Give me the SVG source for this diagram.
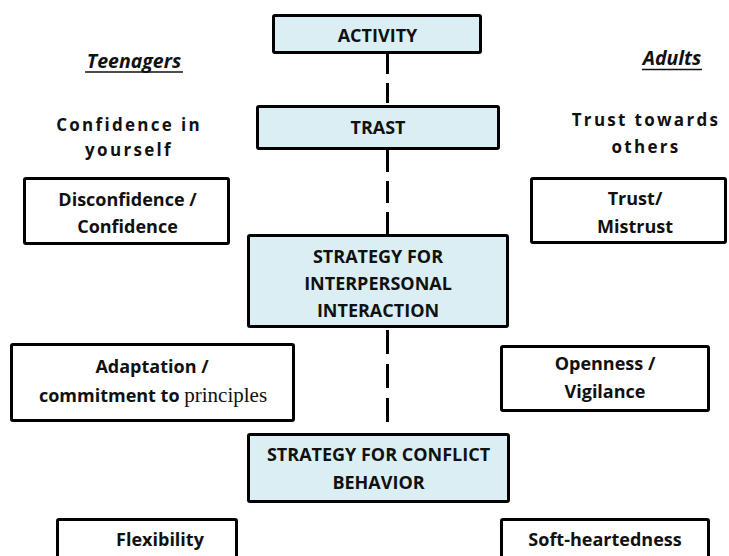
<svg xmlns="http://www.w3.org/2000/svg" width="729" height="556" viewBox="0 0 729 556">
  <style>
    .box { fill: #ffffff; stroke: #000000; stroke-width: 3; }
    .main { fill: #DAEEF3; stroke: #000000; stroke-width: 3; }
    .lbl { font-family: "Open Sans", "Liberation Sans", sans-serif; font-weight: bold; font-size: 18px; fill: #111111; text-anchor: middle; }
    .cat { font-family: "Open Sans", "Liberation Sans", sans-serif; font-weight: bold; font-size: 17px; letter-spacing: 2.3px; fill: #111111; text-anchor: middle; }
    .head { font-family: "Open Sans", "Liberation Sans", sans-serif; font-weight: bold; font-style: italic; font-size: 19.5px; fill: #111111; text-anchor: middle; }
    .serif { font-family: "Liberation Serif", serif; font-weight: normal; font-size: 21px; }
    .dash { stroke: #000000; stroke-width: 3; fill: none; }
  </style>

  <!-- dashed spine between the central boxes -->
  <g id="connectors">
    <line class="dash" x1="387.5" y1="54" x2="387.5" y2="105" stroke-dasharray="20 9"/>
    <line class="dash" x1="387.5" y1="150" x2="387.5" y2="234" stroke-dasharray="22 9"/>
    <line class="dash" x1="387.5" y1="330" x2="387.5" y2="432" stroke-dasharray="24 10"/>
  </g>

  <!-- column headings -->
  <g id="head-teenagers">
    <text class="head" x="134" y="68">Teenagers</text>
    <line x1="85" y1="72" x2="183" y2="72" stroke="#111111" stroke-width="1.5"/>
  </g>
  <g id="head-adults">
    <text class="head" x="672" y="65">Adults</text>
    <line x1="642" y1="69.5" x2="702" y2="69.5" stroke="#111111" stroke-width="1.5"/>
  </g>

  <g id="cat-confidence">
    <text class="cat" x="129" y="130.5">Confidence in</text>
    <text class="cat" x="129" y="156">yourself</text>
  </g>
  <g id="cat-trust">
    <text class="cat" x="646" y="126">Trust towards</text>
    <text class="cat" x="646" y="152.5">others</text>
  </g>

  <!-- central chain -->
  <g id="activity">
    <rect class="main" x="273.5" y="15.5" width="207" height="37" rx="1.5"/>
    <text class="lbl" x="377.5" y="42">ACTIVITY</text>
  </g>
  <g id="trast">
    <rect class="main" x="257.5" y="106.5" width="241" height="42" rx="1.5"/>
    <text class="lbl" x="378" y="134">TRAST</text>
  </g>
  <g id="interpersonal">
    <rect class="main" x="248.5" y="235.5" width="259" height="91" rx="1.5"/>
    <text class="lbl" x="378" y="263">STRATEGY FOR</text>
    <text class="lbl" x="378" y="290">INTERPERSONAL</text>
    <text class="lbl" x="378" y="317">INTERACTION</text>
  </g>
  <g id="conflict">
    <rect class="main" x="248.5" y="434.5" width="260" height="67" rx="1.5"/>
    <text class="lbl" x="378.5" y="461">STRATEGY FOR CONFLICT</text>
    <text class="lbl" x="378.5" y="489">BEHAVIOR</text>
  </g>

  <!-- side boxes -->
  <g id="disconfidence">
    <rect class="box" x="24.5" y="178.5" width="204" height="65" rx="1.5"/>
    <text class="lbl" x="127.5" y="205.5">Disconfidence /</text>
    <text class="lbl" x="127.5" y="233">Confidence</text>
  </g>
  <g id="trust-mistrust">
    <rect class="box" x="531.5" y="178.5" width="194" height="64" rx="1.5"/>
    <text class="lbl" x="635" y="205">Trust/</text>
    <text class="lbl" x="635" y="233">Mistrust</text>
  </g>
  <g id="adaptation">
    <rect class="box" x="11.5" y="344.5" width="282" height="76" rx="1.5"/>
    <text class="lbl" x="152" y="373">Adaptation /</text>
    <text class="lbl" x="153" y="401.5">commitment to <tspan class="serif">principles</tspan></text>
  </g>
  <g id="openness">
    <rect class="box" x="501.5" y="346.5" width="207" height="64" rx="1.5"/>
    <text class="lbl" x="605" y="370">Openness /</text>
    <text class="lbl" x="605" y="398">Vigilance</text>
  </g>
  <g id="flexibility">
    <rect class="box" x="57.5" y="519.5" width="179" height="50" rx="1.5"/>
    <text class="lbl" x="160" y="546">Flexibility</text>
  </g>
  <g id="soft-heartedness">
    <rect class="box" x="501.5" y="519.5" width="207" height="50" rx="1.5"/>
    <text class="lbl" x="605" y="546">Soft-heartedness</text>
  </g>
</svg>
